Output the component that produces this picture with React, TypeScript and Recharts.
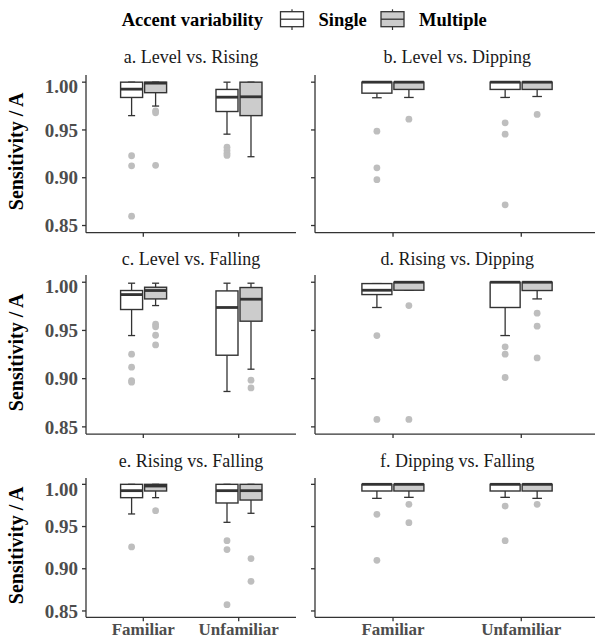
import { ComposedChart, Bar, XAxis, YAxis } from 'recharts'

const familiarity = ['Familiar', 'Unfamiliar']
const panelTitles = [
  'a. Level vs. Rising',
  'b. Level vs. Dipping',
  'c. Level vs. Falling',
  'd. Rising vs. Dipping',
  'e. Rising vs. Falling',
  'f. Dipping vs. Falling',
]
const yTicks = [0.85, 0.9, 0.95, 1]

// [lower whisker, Q1, median, Q3, upper whisker] per panel, Familiar then Unfamiliar
const singleStats = [
  [[0.965, 0.984, 0.9927, 1.0, 1.0], [0.9456, 0.9693, 0.9843, 0.9924, 1.0]],
  [[0.9837, 0.9885, 1.0, 1.0, 1.0], [0.984, 0.9924, 1.0, 1.0, 1.0]],
  [[0.9447, 0.9717, 0.9872, 0.9914, 0.999], [0.8867, 0.9243, 0.9738, 0.991, 0.999]],
  [[0.9738, 0.9872, 0.9917, 0.9986, 0.9986], [0.9447, 0.9738, 1.0, 1.0, 1.0]],
  [[0.9649, 0.9842, 0.9925, 1.0, 1.0], [0.955, 0.9779, 0.9925, 1.0, 1.0]],
  [[0.9834, 0.9921, 1.0, 1.0, 1.0], [0.9846, 0.9921, 1.0, 1.0, 1.0]],
]
const multipleStats = [
  [[0.975, 0.989, 0.999, 1.0, 1.0], [0.922, 0.965, 0.9847, 1.0, 1.0]],
  [[0.984, 0.9924, 1.0, 1.0, 1.0], [0.985, 0.9924, 1.0, 1.0, 1.0]],
  [[0.9758, 0.9827, 0.9914, 0.9948, 0.999], [0.9098, 0.9596, 0.9824, 0.9945, 0.999]],
  [[0.9917, 0.9917, 1.0, 1.0, 1.0], [0.9827, 0.9914, 1.0, 1.0, 1.0]],
  [[0.9842, 0.9921, 0.998, 1.0, 1.0], [0.9657, 0.9814, 0.9925, 1.0, 1.0]],
  [[0.9846, 0.9921, 1.0, 1.0, 1.0], [0.9834, 0.9921, 1.0, 1.0, 1.0]],
]
const singleOutliers = [
  [[0.923, 0.9125, 0.8598], [0.932, 0.9285, 0.9255, 0.9233]],
  [[0.9487, 0.9104, 0.898], [0.9575, 0.9456, 0.8717]],
  [[0.9254, 0.9119, 0.898, 0.8963], []],
  [[0.9447, 0.8577], [0.933, 0.9254, 0.9012]],
  [[0.9258], [0.9333, 0.9227, 0.8575]],
  [[0.9645, 0.91], [0.9743, 0.9333]],
]
const multipleOutliers = [
  [[0.97, 0.968, 0.913], []],
  [[0.9613], [0.9662]],
  [[0.9565, 0.9537, 0.945, 0.935], [0.8984, 0.8904]],
  [[0.9758, 0.8577], [0.9679, 0.9544, 0.9215]],
  [[0.9688], [0.912, 0.8851]],
  [[0.9763, 0.9546], [0.9763]],
]

const FONT = '"Liberation Serif", "Times New Roman", serif'
const INK = '#333333'
const TICK_TEXT = '#4d4d4d'
const MULTI_FILL = '#cccccc'
const DOT = '#bebebe'

const ROWS = [
  { top: 74.5, bottom: 232.2, title: 56.7 },
  { top: 274.8, bottom: 433.9, title: 259 },
  { top: 477.7, bottom: 617, title: 460.7 },
]
const COLS = [
  { left: 86, right: 296, yWidth: 86, pad: 9.6, barSize: 22 },
  { left: 315, right: 599.3, yWidth: 10, pad: 13.9, barSize: 30 },
]

function BoxShape(props: any) {
  const { x, y, width, height, payload, group, fill } = props
  const [lo, q1, med, q3, hi] = payload[group]
  const outs: number[] = payload[group + 'Out']
  const k = height / (hi - lo)
  const py = (v: number) => y + (hi - v) * k
  const cx = x + width / 2
  const cw = width * 0.32
  return (
    <g>
      <line x1={cx} x2={cx} y1={py(hi)} y2={py(q3)} stroke={INK} strokeWidth={1.3} />
      <line x1={cx} x2={cx} y1={py(q1)} y2={py(lo)} stroke={INK} strokeWidth={1.3} />
      <line x1={cx - cw / 2} x2={cx + cw / 2} y1={py(hi)} y2={py(hi)} stroke={INK} strokeWidth={1.3} />
      <line x1={cx - cw / 2} x2={cx + cw / 2} y1={py(lo)} y2={py(lo)} stroke={INK} strokeWidth={1.3} />
      <rect x={x} y={py(q3)} width={width} height={py(q1) - py(q3)} fill={fill} stroke={INK} strokeWidth={1.4} />
      <line x1={x} x2={x + width} y1={py(med)} y2={py(med)} stroke={INK} strokeWidth={2.8} />
      {outs.map((v, i) => (
        <circle key={i} cx={cx} cy={py(v)} r={3.4} fill={DOT} />
      ))}
    </g>
  )
}

function Panel({ index }: { index: number }) {
  const row = ROWS[Math.floor(index / 2)]
  const col = COLS[index % 2]
  const bottomRow = index >= 4
  const xh = bottomRow ? 22 : 6
  const plotH = row.bottom - row.top
  const width = col.right - col.left + col.yWidth
  const data = familiarity.map((name, i) => ({
    name,
    single: singleStats[index][i],
    multiple: multipleStats[index][i],
    singleOut: singleOutliers[index][i],
    multipleOut: multipleOutliers[index][i],
  }))
  const axisStyle = { stroke: INK, strokeWidth: 1.3 }
  return (
    <div style={{ position: 'absolute', left: col.left - col.yWidth, top: row.top }}>
      <ComposedChart
        width={width}
        height={plotH + xh}
        data={data}
        margin={{ top: 0, right: 0, bottom: 0, left: 0 }}
        barGap={2}
        barSize={col.barSize}
      >
        <XAxis
          dataKey="name"
          height={xh}
          interval={0}
          padding={{ left: col.pad, right: col.pad }}
          axisLine={axisStyle}
          tickLine={axisStyle}
          tickSize={4}
          tickMargin={2}
          tickFormatter={(v: string) => (bottomRow ? v : '')}
          tick={{ fill: TICK_TEXT, fontSize: 17, fontWeight: 'bold', fontFamily: FONT }}
        />
        <YAxis
          type="number"
          domain={[0.8425, 1.0075]}
          ticks={yTicks}
          width={col.yWidth}
          axisLine={axisStyle}
          tickLine={axisStyle}
          tickSize={4}
          tickMargin={4}
          tickFormatter={(v: number) => (index % 2 === 0 ? v.toFixed(2) : '')}
          tick={{ fill: TICK_TEXT, fontSize: 19, fontWeight: 'bold', fontFamily: FONT }}
        />
        <Bar
          dataKey={(d: any) => [d.single[0], d.single[4]]}
          isAnimationActive={false}
          shape={(p: any) => <BoxShape {...p} group="single" fill="#ffffff" />}
        />
        <Bar
          dataKey={(d: any) => [d.multiple[0], d.multiple[4]]}
          isAnimationActive={false}
          shape={(p: any) => <BoxShape {...p} group="multiple" fill={MULTI_FILL} />}
        />
      </ComposedChart>
    </div>
  )
}

function LegendKey({ x, fill }: { x: number; fill: string }) {
  return (
    <g>
      <line x1={x + 11.5} x2={x + 11.5} y1={9.3} y2={30} stroke={INK} strokeWidth={1.2} />
      <rect x={x} y={11.7} width={23} height={15} fill={fill} stroke={INK} strokeWidth={1.3} />
      <line x1={x} x2={x + 23} y1={19.2} y2={19.2} stroke={INK} strokeWidth={1.3} />
    </g>
  )
}

export default function App() {
  return (
    <div
      style={{
        position: 'absolute',
        left: 0,
        top: 0,
        width: 595,
        height: 639,
        overflow: 'hidden',
        background: '#ffffff',
        fontFamily: FONT,
      }}
    >
      {panelTitles.map((_, i) => (
        <Panel key={i} index={i} />
      ))}
      <svg
        width={595}
        height={639}
        style={{ position: 'absolute', left: 0, top: 0, pointerEvents: 'none' }}
      >
        <text x={121.7} y={20} dominantBaseline="central" fontSize={18.5} fontWeight="bold" fontFamily={FONT} fill="#000">
          Accent variability
        </text>
        <LegendKey x={280.5} fill="#ffffff" />
        <text x={318.5} y={20} dominantBaseline="central" fontSize={18.5} fontWeight="bold" fontFamily={FONT} fill="#000">
          Single
        </text>
        <LegendKey x={381} fill={MULTI_FILL} />
        <text x={419} y={20} dominantBaseline="central" fontSize={18.5} fontWeight="bold" fontFamily={FONT} fill="#000">
          Multiple
        </text>
        {panelTitles.map((t, i) => {
          const row = ROWS[Math.floor(i / 2)]
          const col = COLS[i % 2]
          const cx = i % 2 === 0 ? (col.left + col.right) / 2 : 457.3
          return (
            <text key={t} x={cx} y={row.title} textAnchor="middle" dominantBaseline="central" fontSize={18} fontFamily={FONT} fill="#1a1a1a">
              {t}
            </text>
          )
        })}
        {ROWS.map((row, i) => (
          <text
            key={i}
            transform={`translate(16, ${(row.top + row.bottom) / 2 - 2}) rotate(-90)`}
            textAnchor="middle"
            dominantBaseline="central"
            fontSize={20}
            fontWeight="bold"
            fontFamily={FONT}
            fill="#000"
          >
            Sensitivity / A
          </text>
        ))}
      </svg>
    </div>
  )
}
